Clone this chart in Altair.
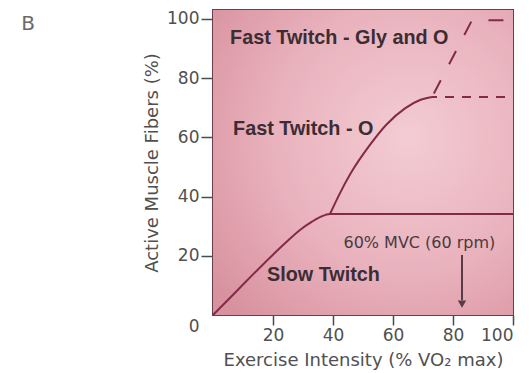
import altair as alt
import pandas as pd

# Fiber-type recruitment boundaries (% VO2 max vs % active fibers)
slow_x = [0, 8, 16, 24, 29, 33, 36, 39, 100]
slow_y = [0, 8.2, 16.4, 24.2, 28.7, 31.5, 33.2, 34.1, 34.1]

fast_o_x = [39, 42, 46, 52, 58, 64, 69, 73]
fast_o_y = [34.1, 40.5, 48, 57, 64.5, 69.8, 72.6, 73.6]

gly_x = [73, 86.3, 98]
gly_y = [73.6, 99.5, 99.5]

plateau_x = [73, 100]
plateau_y = [73.6, 73.6]

region_labels = ["Fast Twitch - Gly and O", "Fast Twitch - O", "Slow Twitch"]
region_x = [5.7, 6.7, 18]
region_y = [93.5, 62.8, 13.5]

mvc_label = ["60% MVC (60 rpm)"]
mvc_x = [68.8]
mvc_y = [24.3]
arrow_x = [83]
arrow_top = [20.3]
arrow_shaft_end = [5.0]
arrow_head_y = [3.7]

x_ticks = [20, 40, 60, 80, 100]
y_ticks = [0, 20, 40, 60, 80, 100]

W, H = 300, 305
LINE = "#832a45"
TXT = "#3b2d33"
AX = "#505050"
FONT = "DejaVu Sans"

xs = alt.Scale(domain=[0, 100], nice=False, zero=False)
ys = alt.Scale(domain=[0, 103], nice=False, zero=False)

x_axis = alt.Axis(
    values=x_ticks, title="Exercise Intensity (% VO₂ max)", grid=False,
    domain=False, tickSize=10, tickWidth=1.5, tickColor="#4a4a4a",
    labelPadding=2, titlePadding=8,
)
y_axis = alt.Axis(
    values=y_ticks, title="Active Muscle Fibers (%)", grid=False,
    domain=False, tickSize=12, tickWidth=1.5, tickColor="#4a4a4a",
    labelPadding=2, titlePadding=5,
    tickOpacity={"expr": "datum.value == 0 ? 0 : 1"},
    labelOffset={"expr": "datum.value == 0 ? 11 : 0"},
)

# shaded plot background
bg = alt.Chart(pd.DataFrame({"k": [0]})).mark_rect(
    color=alt.RadialGradient(
        gradient="radial", x1=0.65, y1=0.42, x2=0.65, y2=0.42, r1=0, r2=0.8,
        stops=[
            alt.GradientStop(offset=0, color="#f3ccd2"),
            alt.GradientStop(offset=0.55, color="#e9b2bd"),
            alt.GradientStop(offset=1, color="#d8929f"),
        ],
    )
).encode(x=alt.value(0), x2=alt.value(W), y=alt.value(0), y2=alt.value(H))


def curve(xv, yv, dash=None, offset=0):
    df = pd.DataFrame({"x": xv, "y": yv, "o": range(len(xv))})
    kw = dict(color=LINE, strokeWidth=2, interpolate="monotone")
    if dash:
        kw["strokeDash"] = dash
        kw["strokeDashOffset"] = offset
        kw["interpolate"] = "linear"
    return alt.Chart(df).mark_line(**kw).encode(
        x=alt.X("x:Q", scale=xs, axis=x_axis),
        y=alt.Y("y:Q", scale=ys, axis=y_axis),
        order="o:Q",
    )


slow = curve(slow_x, slow_y)
fast_o = curve(fast_o_x, fast_o_y)
gly = curve(gly_x, gly_y, dash=[15, 18], offset=29)
plateau = curve(plateau_x, plateau_y, dash=[9, 8], offset=4)

lab_df = pd.DataFrame({"t": region_labels, "x": region_x, "y": region_y})
labels = alt.Chart(lab_df).mark_text(
    align="left", baseline="middle", font="Liberation Sans", fontWeight="bold",
    fontSize=19.8, color=TXT,
).encode(x=alt.X("x:Q", scale=xs), y=alt.Y("y:Q", scale=ys), text="t:N")

mvc_df = pd.DataFrame({"t": mvc_label, "x": mvc_x, "y": mvc_y})
mvc = alt.Chart(mvc_df).mark_text(
    align="center", baseline="middle", font=FONT, fontSize=16, color="#4a3a40",
).encode(x=alt.X("x:Q", scale=xs), y=alt.Y("y:Q", scale=ys), text="t:N")

arr_df = pd.DataFrame({"x": arrow_x, "y": arrow_top, "y2": arrow_shaft_end, "h": arrow_head_y})
shaft = alt.Chart(arr_df).mark_rule(color="#5a3a45", strokeWidth=2).encode(
    x=alt.X("x:Q", scale=xs), y=alt.Y("y:Q", scale=ys), y2="y2:Q"
)
head = alt.Chart(arr_df).mark_point(
    shape="triangle-down", filled=True, size=70, color="#5a3a45", opacity=1
).encode(x=alt.X("x:Q", scale=xs), y=alt.Y("h:Q", scale=ys))

panel = alt.Chart(pd.DataFrame({"t": ["B"]})).mark_text(
    font=FONT, fontSize=20, color="#6a6a6a", align="center", baseline="middle"
).encode(x=alt.value(-185), y=alt.value(14), text="t:N")

chart = alt.layer(
    bg, slow, fast_o, gly, plateau, labels, mvc, shaft, head, panel
).properties(
    width=W, height=H,
    autosize=alt.AutoSizeParams(type="none"),
    padding={"left": 213, "top": 10, "right": 16, "bottom": 58},
    background="white",
).configure_view(
    stroke="#6e3d4c", strokeWidth=2
).configure_axis(
    labelFont=FONT, labelFontSize=17, labelColor=AX,
    titleFont=FONT, titleFontSize=18, titleColor=AX, titleFontWeight="normal",
)

chart.save("out.html", embed_options={"renderer": "svg", "actions": False})
